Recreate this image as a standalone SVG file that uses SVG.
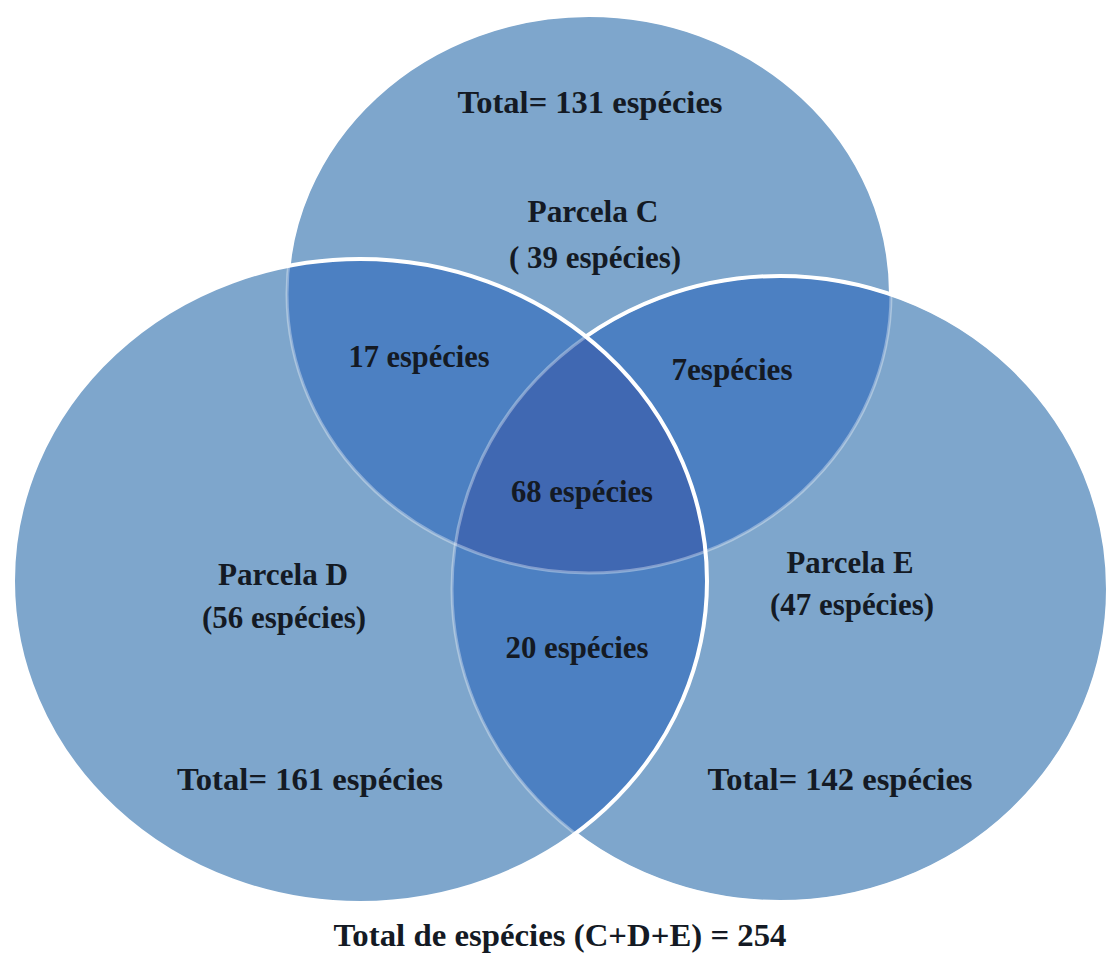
<svg xmlns="http://www.w3.org/2000/svg" xmlns:xlink="http://www.w3.org/1999/xlink" width="1113" height="963" viewBox="0 0 1113 963">
  <style>
    .t { font-family: "Liberation Serif", "Times New Roman", serif; font-weight: bold; font-size: 31px; fill: #141a24; text-anchor: middle; }
    .base { fill: #7ea6cc; }
    .two { fill: #4c80c2; }
    .three { fill: #4068b2; }
    .edge { fill: none; stroke: #ffffff; stroke-width: 4; }
    .soft { fill: none; stroke: #ffffff; stroke-opacity: 0.35; stroke-width: 3; }
  </style>
  <defs>
    <ellipse id="eC" cx="589" cy="294" rx="302" ry="279"/>
    <ellipse id="eD" cx="360" cy="581" rx="347" ry="322"/>
    <ellipse id="eE" cx="780" cy="589" rx="328" ry="313"/>
    <clipPath id="clipC"><use xlink:href="#eC"/></clipPath>
    <clipPath id="clipD"><use xlink:href="#eD"/></clipPath>
    <clipPath id="clipE"><use xlink:href="#eE"/></clipPath>
    <mask id="outDE" maskUnits="userSpaceOnUse" x="0" y="0" width="1113" height="963">
      <rect x="0" y="0" width="1113" height="963" fill="#fff"/>
      <use xlink:href="#eD" fill="#000"/>
      <use xlink:href="#eE" fill="#000"/>
    </mask>
    <mask id="outD" maskUnits="userSpaceOnUse" x="0" y="0" width="1113" height="963">
      <rect x="0" y="0" width="1113" height="963" fill="#fff"/>
      <use xlink:href="#eD" fill="#000"/>
    </mask>
  </defs>
  <rect x="0" y="0" width="1113" height="963" fill="#ffffff"/>

  <g id="regions">
    <use xlink:href="#eC" class="base"/>
    <use xlink:href="#eD" class="base"/>
    <use xlink:href="#eE" class="base"/>
    <use xlink:href="#eD" class="two" clip-path="url(#clipC)"/>
    <use xlink:href="#eE" class="two" clip-path="url(#clipC)"/>
    <use xlink:href="#eE" class="two" clip-path="url(#clipD)"/>
    <g clip-path="url(#clipC)">
      <use xlink:href="#eE" class="three" clip-path="url(#clipD)"/>
    </g>
  </g>

  <g id="circle-C">
    <use xlink:href="#eC" class="soft"/>
    <use xlink:href="#eC" class="edge" mask="url(#outDE)"/>
  </g>
  <g id="circle-E">
    <use xlink:href="#eE" class="soft"/>
    <use xlink:href="#eE" class="edge" mask="url(#outD)"/>
  </g>
  <g id="circle-D">
    <use xlink:href="#eD" class="edge"/>
  </g>

  <g id="labels-C">
    <text class="t" x="590" y="113" textLength="265" lengthAdjust="spacingAndGlyphs">Total= 131 espécies</text>
    <text class="t" x="593" y="222" textLength="131" lengthAdjust="spacingAndGlyphs">Parcela C</text>
    <text class="t" x="595" y="268" textLength="172" lengthAdjust="spacingAndGlyphs">( 39 espécies)</text>
  </g>
  <g id="label-CD">
    <text class="t" x="419" y="367" textLength="141" lengthAdjust="spacingAndGlyphs">17 espécies</text>
  </g>
  <g id="label-CE">
    <text class="t" x="732" y="380" textLength="121" lengthAdjust="spacingAndGlyphs">7espécies</text>
  </g>
  <g id="label-CDE">
    <text class="t" x="582" y="502" textLength="142" lengthAdjust="spacingAndGlyphs">68 espécies</text>
  </g>
  <g id="labels-D">
    <text class="t" x="283" y="585" textLength="130" lengthAdjust="spacingAndGlyphs">Parcela D</text>
    <text class="t" x="284" y="628" textLength="164" lengthAdjust="spacingAndGlyphs">(56 espécies)</text>
    <text class="t" x="310" y="790" textLength="266" lengthAdjust="spacingAndGlyphs">Total= 161 espécies</text>
  </g>
  <g id="labels-E">
    <text class="t" x="850" y="573" textLength="127" lengthAdjust="spacingAndGlyphs">Parcela E</text>
    <text class="t" x="852" y="615" textLength="164" lengthAdjust="spacingAndGlyphs">(47 espécies)</text>
    <text class="t" x="840" y="790" textLength="265" lengthAdjust="spacingAndGlyphs">Total= 142 espécies</text>
  </g>
  <g id="label-DE">
    <text class="t" x="577" y="658" textLength="143" lengthAdjust="spacingAndGlyphs">20 espécies</text>
  </g>
  <g id="caption">
    <text class="t" x="560" y="946" textLength="453" lengthAdjust="spacingAndGlyphs">Total de espécies (C+D+E) = 254</text>
  </g>
</svg>
